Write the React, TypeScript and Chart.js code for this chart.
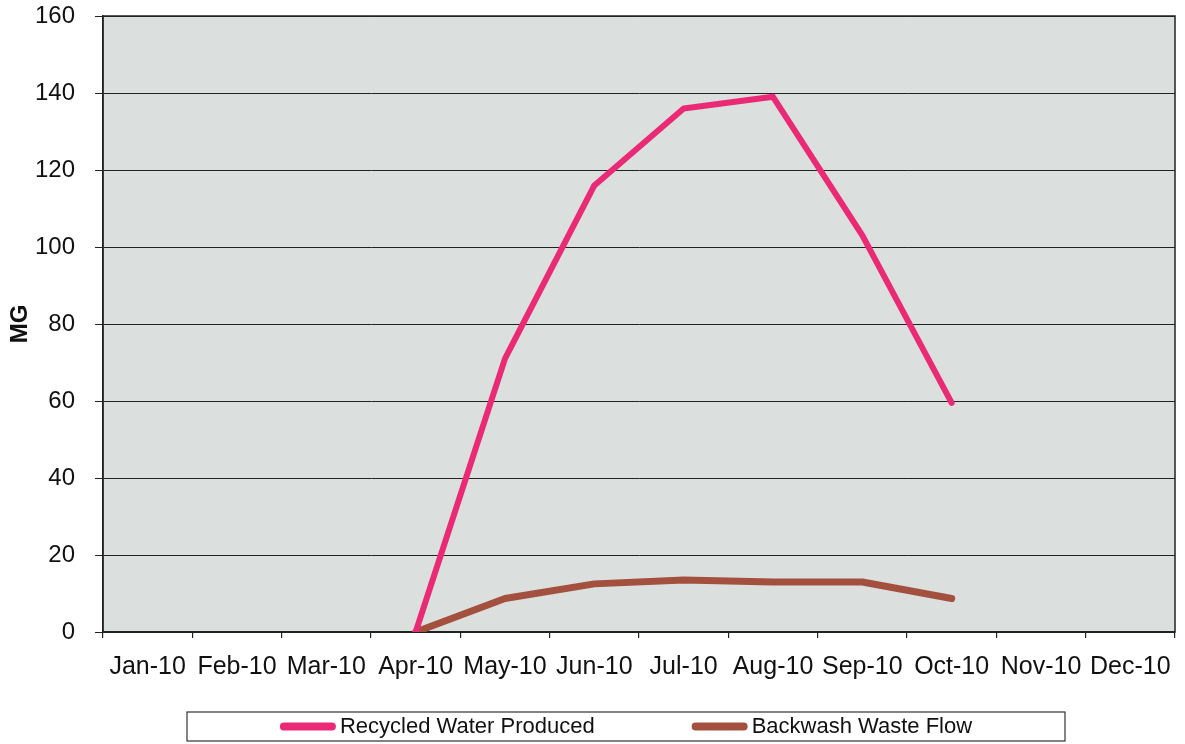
import React, { useEffect, useRef } from "react";
import { Chart, registerables } from "chart.js";

Chart.register(...registerables);

const months = ["Jan-10", "Feb-10", "Mar-10", "Apr-10", "May-10", "Jun-10", "Jul-10", "Aug-10", "Sep-10", "Oct-10", "Nov-10", "Dec-10"];
const recycledWater = [null, null, null, 0, 71, 116, 136, 139, 103, 59.5, null, null];
const backwashFlow = [null, null, null, 0, 8.7, 12.5, 13.5, 13, 13, 8.7, null, null];
const seriesNames = ["Recycled Water Produced", "Backwash Waste Flow"];
const seriesColors = ["#ea2a74", "#a4503f"];
const yTicks = { min: 0, max: 160, step: 20 };
const yTitle = "MG";

const FONT = "'Liberation Sans', Arial, sans-serif";

const plotBg = {
  id: "plotBg",
  beforeDraw(chart: any) {
    const { ctx, chartArea: a } = chart;
    ctx.save();
    ctx.fillStyle = "#dbe0de";
    ctx.fillRect(a.left, a.top, a.right - a.left, a.bottom - a.top);
    ctx.restore();
  },
  beforeDatasetsDraw(chart: any) {
    const { ctx, chartArea: a } = chart;
    ctx.save();
    ctx.strokeStyle = "#222";
    ctx.lineWidth = 1.5;
    ctx.strokeRect(a.left, a.top, a.right - a.left, a.bottom - a.top);
    ctx.restore();
  },
};

const boxLegend = {
  id: "boxLegend",
  afterDraw(chart: any) {
    const { ctx } = chart;
    const boxL = 187, boxT = 712, boxW = 878, boxH = 29;
    ctx.save();
    ctx.fillStyle = "#ffffff";
    ctx.fillRect(boxL, boxT, boxW, boxH);
    ctx.strokeStyle = "#333";
    ctx.lineWidth = 1.2;
    ctx.strokeRect(boxL, boxT, boxW, boxH);
    ctx.font = `22px ${FONT}`;
    const sample = 56, gap = 4, itemGap = 97;
    const ds = chart.data.datasets;
    const widths = ds.map((d: any) => ctx.measureText(d.label).width);
    const total = widths.reduce((s: number, w: number) => s + w + sample + gap, 0) + itemGap * (ds.length - 1);
    let x = boxL + boxW / 2 - total / 2;
    const cy = boxT + boxH / 2;
    ds.forEach((d: any, i: number) => {
      ctx.strokeStyle = d.borderColor;
      ctx.lineWidth = 8;
      ctx.lineCap = "round";
      ctx.beginPath();
      ctx.moveTo(x + 4, cy);
      ctx.lineTo(x + sample - 4, cy);
      ctx.stroke();
      ctx.fillStyle = "#111";
      ctx.textBaseline = "middle";
      ctx.textAlign = "left";
      ctx.fillText(d.label, x + sample + gap, cy);
      x += sample + gap + widths[i] + itemGap;
    });
    ctx.restore();
  },
};

export default function App() {
  const ref = useRef<HTMLCanvasElement>(null);
  useEffect(() => {
    if (!ref.current) return;
    const chart = new Chart(ref.current, {
      type: "line",
      data: {
        labels: months,
        datasets: [
          {
            label: seriesNames[0],
            data: recycledWater,
            borderColor: seriesColors[0],
            backgroundColor: seriesColors[0],
            borderWidth: 6,
            pointRadius: 0,
            borderCapStyle: "round",
            borderJoinStyle: "round",
            spanGaps: false,
          },
          {
            label: seriesNames[1],
            data: backwashFlow,
            borderColor: seriesColors[1],
            backgroundColor: seriesColors[1],
            borderWidth: 7,
            pointRadius: 0,
            borderCapStyle: "round",
            borderJoinStyle: "round",
            spanGaps: false,
          },
        ],
      },
      options: {
        responsive: false,
        animation: false,
        layout: { padding: { top: 16, right: 10, bottom: 52, left: 0 } },
        plugins: {
          legend: { display: false },
          tooltip: { enabled: false },
        },
        scales: {
          x: {
            type: "category",
            offset: true,
            grid: {
              offset: true,
              drawOnChartArea: false,
              drawTicks: true,
              tickLength: 6,
              color: "#222",
              lineWidth: 1.2,
            },
            border: { display: true, color: "#222", width: 1.5 },
            ticks: {
              color: "#111",
              font: { family: FONT, size: 25 },
              padding: 14,
              maxRotation: 0,
              minRotation: 0,
              autoSkip: false,
            },
            afterFit(scale: any) {
              scale.height = 60;
              scale.paddingLeft = 0;
              scale.paddingRight = 0;
            },
          },
          y: {
            min: yTicks.min,
            max: yTicks.max,
            grid: {
              color: "#222",
              lineWidth: 1,
              tickLength: 8,
            },
            border: { display: true, color: "#222", width: 1.5 },
            ticks: {
              stepSize: yTicks.step,
              color: "#111",
              font: { family: FONT, size: 24 },
              padding: 20,
            },
            title: {
              display: true,
              text: yTitle,
              color: "#111",
              font: { family: FONT, size: 24, weight: "bold" },
              padding: { top: 6, bottom: 0 },
            },
            afterFit(scale: any) {
              scale.width = 103;
              scale.paddingTop = 0;
              scale.paddingBottom = 0;
            },
          },
        },
      },
      plugins: [plotBg, boxLegend],
    });
    return () => chart.destroy();
  }, []);
  return (
    <div style={{ position: "absolute", left: 0, top: 0, width: 1185, height: 744, background: "#fff" }}>
      <canvas ref={ref} width={1185} height={744} style={{ display: "block" }} />
    </div>
  );
}
